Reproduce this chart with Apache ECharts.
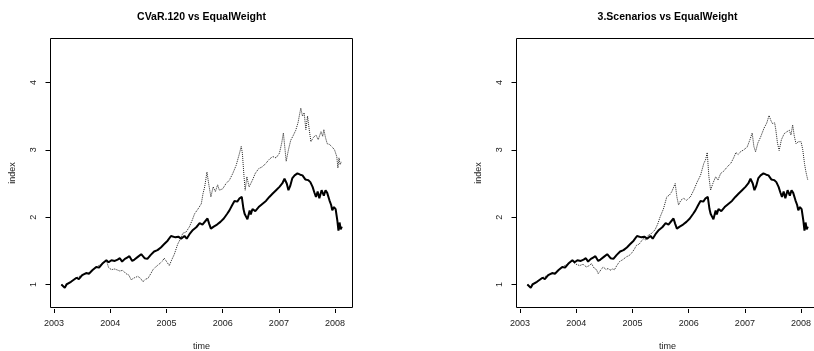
<!DOCTYPE html>
<html>
<head>
<meta charset="utf-8">
<style>
  html, body { margin: 0; padding: 0; background: #fff; }
  #chart { width: 814px; height: 351px; }
</style>
<script src="https://cdn.jsdelivr.net/npm/echarts@6/dist/echarts.min.js"></script>
</head>
<body>
<div id="chart"></div>
<script>
// tick labels
const xTicks = [2003, 2004, 2005, 2006, 2007, 2008]
const yTicks = [1, 2, 3, 4]
const titles = ['CVaR.120 vs EqualWeight', '3.Scenarios vs EqualWeight']

// EqualWeight (solid, shared by both panels)
const eqTime = [2003.13, 2003.16, 2003.19, 2003.22, 2003.25, 2003.30, 2003.35, 2003.40, 2003.44, 2003.50,
  2003.57, 2003.62, 2003.68, 2003.75, 2003.80, 2003.86, 2003.93, 2003.97, 2004.02, 2004.08,
  2004.13, 2004.17, 2004.21, 2004.26, 2004.30, 2004.34, 2004.39, 2004.43, 2004.49, 2004.55,
  2004.61, 2004.66, 2004.72, 2004.78, 2004.84, 2004.90, 2004.96, 2005.02, 2005.08, 2005.11,
  2005.16, 2005.21, 2005.26, 2005.32, 2005.36, 2005.42, 2005.47, 2005.53, 2005.59, 2005.64,
  2005.70, 2005.73, 2005.76, 2005.79, 2005.84, 2005.90, 2005.96, 2006.02, 2006.08, 2006.12,
  2006.17, 2006.21, 2006.26, 2006.30, 2006.34, 2006.37, 2006.39, 2006.42, 2006.44, 2006.48,
  2006.50, 2006.53, 2006.58, 2006.64, 2006.71, 2006.77, 2006.83, 2006.89, 2006.95, 2007.01,
  2007.06, 2007.10, 2007.14, 2007.17, 2007.20, 2007.24, 2007.28, 2007.33, 2007.38, 2007.42,
  2007.47, 2007.52, 2007.56, 2007.60, 2007.63, 2007.66, 2007.69, 2007.72, 2007.76, 2007.80,
  2007.83, 2007.86, 2007.90, 2007.93, 2007.95, 2007.98, 2008.01, 2008.04, 2008.06, 2008.08,
  2008.10, 2008.12]
const eqValue = [1.00, 1.01, 0.95, 1.00, 0.98, 1.04, 1.07, 1.10, 1.08, 1.14,
  1.17, 1.16, 1.21, 1.26, 1.25, 1.31, 1.36, 1.33, 1.36, 1.35,
  1.37, 1.39, 1.34, 1.38, 1.40, 1.42, 1.35, 1.37, 1.41, 1.45,
  1.39, 1.38, 1.44, 1.49, 1.51, 1.55, 1.60, 1.65, 1.72, 1.74,
  1.70, 1.71, 1.68, 1.72, 1.68, 1.76, 1.81, 1.85, 1.91, 1.89,
  1.95, 1.98, 1.90, 1.83, 1.86, 1.89, 1.93, 1.98, 2.05, 2.10,
  2.18, 2.24, 2.23, 2.28, 2.30, 2.12, 2.05, 2.00, 1.97, 2.10,
  2.04, 2.12, 2.09, 2.15, 2.20, 2.24, 2.30, 2.35, 2.40, 2.45,
  2.50, 2.57, 2.50, 2.40, 2.46, 2.58, 2.62, 2.65, 2.63, 2.62,
  2.56, 2.55, 2.52, 2.45, 2.37, 2.30, 2.38, 2.28, 2.40, 2.32,
  2.40, 2.36, 2.25, 2.18, 2.10, 2.15, 2.12, 1.95, 1.80, 1.92,
  1.82, 1.86]

// CVaR.120 (dotted, left panel)
const cvarTime = [2003.13, 2003.19, 2003.30, 2003.40, 2003.50, 2003.62, 2003.75, 2003.86, 2003.93, 2003.97,
  2004.02, 2004.08, 2004.17, 2004.22, 2004.28, 2004.33, 2004.37, 2004.43, 2004.49, 2004.54,
  2004.58, 2004.63, 2004.67, 2004.72, 2004.76, 2004.82, 2004.88, 2004.93, 2004.96, 2005.01,
  2005.05, 2005.09, 2005.14, 2005.20, 2005.25, 2005.29, 2005.35, 2005.41, 2005.46, 2005.50,
  2005.56, 2005.62, 2005.65, 2005.68, 2005.72, 2005.75, 2005.79, 2005.83, 2005.87, 2005.91,
  2005.94, 2006.00, 2006.06, 2006.12, 2006.18, 2006.24, 2006.29, 2006.33, 2006.35, 2006.38,
  2006.40, 2006.43, 2006.47, 2006.53, 2006.58, 2006.64, 2006.71, 2006.77, 2006.83, 2006.89,
  2006.95, 2007.01, 2007.05, 2007.08, 2007.11, 2007.13, 2007.17, 2007.21, 2007.26, 2007.30,
  2007.34, 2007.39, 2007.42, 2007.45, 2007.48, 2007.51, 2007.54, 2007.57, 2007.61, 2007.66,
  2007.70, 2007.75, 2007.78, 2007.80, 2007.83, 2007.86, 2007.90, 2007.95, 2007.99, 2008.01,
  2008.03, 2008.05, 2008.07, 2008.09, 2008.11]
const cvarValue = [1.00, 0.96, 1.04, 1.10, 1.14, 1.17, 1.26, 1.31, 1.36, 1.25,
  1.22, 1.23, 1.20, 1.21, 1.16, 1.14, 1.07, 1.10, 1.12, 1.09,
  1.04, 1.08, 1.09, 1.16, 1.22, 1.27, 1.31, 1.35, 1.39, 1.33,
  1.28, 1.36, 1.45, 1.60, 1.68, 1.76, 1.78, 1.86, 1.96, 2.05,
  2.12, 2.20, 2.35, 2.45, 2.67, 2.50, 2.30, 2.45, 2.38, 2.48,
  2.40, 2.42, 2.50, 2.55, 2.65, 2.77, 2.92, 3.05, 2.95, 2.60,
  2.40, 2.60, 2.45, 2.55, 2.65, 2.72, 2.75, 2.80, 2.86, 2.90,
  2.88, 2.95, 3.10, 3.25, 3.00, 2.83, 3.00, 3.14, 3.22, 3.29,
  3.40, 3.62, 3.50, 3.55, 3.30, 3.50, 3.30, 3.12, 3.18, 3.22,
  3.15, 3.27, 3.20, 3.30, 3.18, 3.09, 3.08, 3.04, 3.00, 2.95,
  2.90, 2.73, 2.88, 2.78, 2.82]

// 3.Scenarios (dotted, right panel)
const scenTime = [2003.13, 2003.19, 2003.30, 2003.40, 2003.50, 2003.62, 2003.75, 2003.86, 2003.93, 2003.97,
  2004.00, 2004.06, 2004.12, 2004.18, 2004.23, 2004.27, 2004.32, 2004.36, 2004.39, 2004.44,
  2004.48, 2004.53, 2004.57, 2004.60, 2004.64, 2004.68, 2004.72, 2004.77, 2004.83, 2004.89,
  2004.94, 2004.98, 2005.03, 2005.07, 2005.12, 2005.19, 2005.24, 2005.28, 2005.34, 2005.40,
  2005.45, 2005.49, 2005.55, 2005.61, 2005.66, 2005.70, 2005.76, 2005.79, 2005.82, 2005.86,
  2005.91, 2005.96, 2006.03, 2006.09, 2006.15, 2006.21, 2006.27, 2006.30, 2006.33, 2006.36,
  2006.39, 2006.43, 2006.48, 2006.52, 2006.57, 2006.62, 2006.69, 2006.75, 2006.80, 2006.84,
  2006.88, 2006.92, 2006.98, 2007.04, 2007.09, 2007.13, 2007.16, 2007.19, 2007.23, 2007.28,
  2007.34, 2007.39, 2007.43, 2007.46, 2007.49, 2007.53, 2007.55, 2007.58, 2007.61, 2007.65,
  2007.70, 2007.75, 2007.79, 2007.82, 2007.85, 2007.88, 2007.91, 2007.95, 2008.00, 2008.03,
  2008.06, 2008.08, 2008.10, 2008.12]
const scenValue = [1.00, 0.96, 1.04, 1.10, 1.14, 1.17, 1.26, 1.31, 1.36, 1.31,
  1.29, 1.28, 1.30, 1.26, 1.28, 1.31, 1.24, 1.22, 1.16, 1.22,
  1.26, 1.22, 1.24, 1.21, 1.23, 1.22, 1.28, 1.34, 1.37, 1.41,
  1.43, 1.46, 1.52, 1.58, 1.60, 1.68, 1.66, 1.73, 1.76, 1.81,
  1.90, 2.00, 2.12, 2.30, 2.33, 2.38, 2.50, 2.30, 2.18, 2.25,
  2.28, 2.25, 2.30, 2.40, 2.52, 2.62, 2.80, 2.85, 2.96, 2.60,
  2.40, 2.50, 2.60, 2.55, 2.65, 2.68, 2.75, 2.80, 2.88, 2.96,
  2.93, 2.97, 3.00, 3.04, 3.15, 3.25, 3.05, 2.97, 3.10, 3.19,
  3.32, 3.40, 3.51, 3.44, 3.39, 3.40, 3.30, 3.10, 2.99, 3.15,
  3.24, 3.27, 3.29, 3.22, 3.37, 3.20, 3.09, 3.12, 3.12, 3.00,
  2.80, 2.70, 2.62, 2.55]

const zip = (t, v) => t.map((x, i) => [x, v[i]])

const font = 'Liberation Sans, Arial, Helvetica, sans-serif'
const boxes = [{ left: 50.5, width: 302 }, { left: 516.5, width: 302 }]
const boxTop = 38.5
const boxHeight = 269

function makeXAxis(i) {
  return {
    type: 'value', gridIndex: i, min: 2002.936, max: 2008.31,
    offset: 1.5,
    name: 'time', nameLocation: 'middle', nameGap: 33.5,
    nameTextStyle: { fontFamily: font, fontSize: 9, color: '#222' },
    axisLine: { show: false },
    splitLine: { show: false },
    axisTick: { show: true, length: 4, lineStyle: { color: '#000' }, customValues: xTicks },
    axisLabel: {
      fontFamily: font, fontSize: 9, color: '#222', margin: 10, customValues: xTicks,
      formatter: v => String(v)
    }
  }
}
function makeYAxis(i) {
  return {
    type: 'value', gridIndex: i, min: 0.658, max: 4.653,
    name: 'index', nameLocation: 'middle', nameGap: 33,
    nameTextStyle: { fontFamily: font, fontSize: 9, color: '#222' },
    axisLine: { show: false },
    splitLine: { show: false },
    axisTick: { show: true, length: 5, lineStyle: { color: '#000' }, customValues: yTicks },
    axisLabel: { fontFamily: font, fontSize: 9, color: '#222', margin: 12, rotate: 90, customValues: yTicks }
  }
}

const el = document.getElementById('chart')
const chart = echarts.init(el)
chart.setOption({
  animation: false,
  backgroundColor: '#fff',
  grid: boxes.map(b => ({
    left: b.left, top: boxTop, width: b.width, height: boxHeight,
    outerBoundsMode: 'none', containLabel: false,
    show: true, borderColor: '#000', borderWidth: 1, backgroundColor: 'transparent'
  })),
  xAxis: [makeXAxis(0), makeXAxis(1)],
  yAxis: [makeYAxis(0), makeYAxis(1)],
  graphic: titles.map((t, i) => ({
    type: 'text',
    x: boxes[i].left + boxes[i].width / 2,
    y: 17,
    style: {
      text: t, fontFamily: font, fontWeight: 'bold', fontSize: 10.5,
      fill: '#000', align: 'center', verticalAlign: 'middle'
    }
  })),
  series: [
    {
      name: 'CVaR.120', type: 'line', xAxisIndex: 0, yAxisIndex: 0,
      showSymbol: false, data: zip(cvarTime, cvarValue),
      lineStyle: { type: 'dotted', width: 1, color: '#222' }
    },
    {
      name: 'EqualWeight', type: 'line', xAxisIndex: 0, yAxisIndex: 0,
      showSymbol: false, data: zip(eqTime, eqValue),
      lineStyle: { width: 2, color: '#000' }
    },
    {
      name: '3.Scenarios', type: 'line', xAxisIndex: 1, yAxisIndex: 1,
      showSymbol: false, data: zip(scenTime, scenValue),
      lineStyle: { type: 'dotted', width: 1, color: '#222' }
    },
    {
      name: 'EqualWeight', type: 'line', xAxisIndex: 1, yAxisIndex: 1,
      showSymbol: false, data: zip(eqTime, eqValue),
      lineStyle: { width: 2, color: '#000' }
    }
  ]
})
</script>
</body>
</html>
